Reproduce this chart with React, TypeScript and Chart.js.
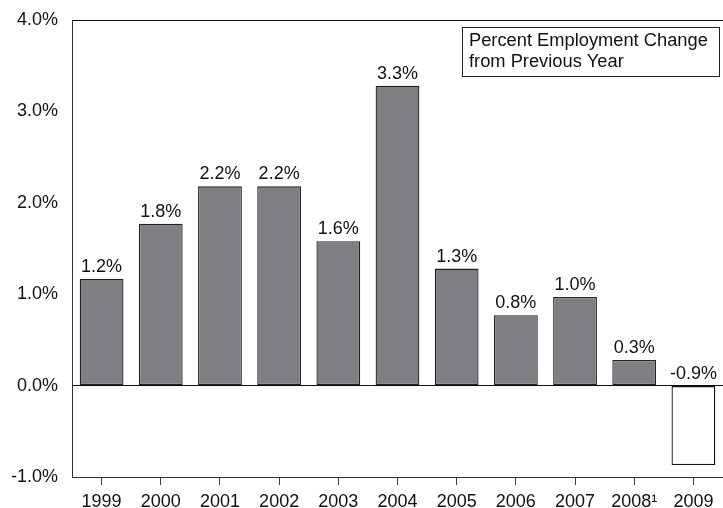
import React, { useEffect, useRef } from "react";
import { Chart, registerables } from "chart.js";

Chart.register(...registerables);

const categories = ["1999", "2000", "2001", "2002", "2003", "2004", "2005", "2006", "2007", "2008\u00b9", "2009"];
const values = [1.17, 1.77, 2.18, 2.18, 1.58, 3.28, 1.28, 0.77, 0.97, 0.28, -0.87];
const valueLabels = ["1.2%", "1.8%", "2.2%", "2.2%", "1.6%", "3.3%", "1.3%", "0.8%", "1.0%", "0.3%", "-0.9%"];
const legendLines = ["Percent Employment Change", "from Previous Year"];

const FONT = "'Liberation Sans', Arial, Helvetica, sans-serif";

export default function App() {
  const ref = useRef<HTMLCanvasElement>(null);
  useEffect(() => {
    if (!ref.current) return;
    const labelPlugin = {
      id: "labels",
      afterDatasetsDraw(chart: any) {
        const ctx = chart.ctx;
        const meta = chart.getDatasetMeta(0);
        const ys = chart.scales.y;
        ctx.save();
        ctx.fillStyle = "#111";
        ctx.font = `18px ${FONT}`;
        ctx.textAlign = "center";
        ctx.textBaseline = "alphabetic";
        meta.data.forEach((bar: any, i: number) => {
          const y = ys.getPixelForValue(Math.max(values[i], 0)) - 7;
          ctx.fillText(valueLabels[i], bar.x, y);
        });
        // legend box
        ctx.strokeStyle = "#222";
        ctx.lineWidth = 1;
        ctx.fillStyle = "#fff";
        ctx.fillRect(462.5, 27.5, 257, 49);
        ctx.strokeRect(462.5, 27.5, 257, 49);
        ctx.fillStyle = "#111";
        ctx.textAlign = "left";
        ctx.font = `18.3px ${FONT}`;
        legendLines.forEach((t, i) => ctx.fillText(t, 469, 46 + i * 20.5));
        ctx.restore();
      },
    };
    const chart = new Chart(ref.current, {
      type: "bar",
      data: {
        labels: categories,
        datasets: [
          {
            data: values,
            backgroundColor: values.map((v) => (v < 0 ? "#ffffff" : "#7f7f83")),
            borderColor: values.map((v) => (v < 0 ? "#111" : "#222")),
            borderWidth: 1.3,
            borderSkipped: false,
            barPercentage: 0.74,
            categoryPercentage: 1,
          },
        ],
      },
      options: {
        animation: false,
        responsive: false,
        devicePixelRatio: 1,
        layout: { padding: { top: 20, right: 0, left: 0, bottom: 0 } },
        plugins: { legend: { display: false }, tooltip: { enabled: false } },
        scales: {
          x: {
            grid: {
              display: true,
              drawOnChartArea: false,
              drawTicks: true,
              tickLength: 8,
              offset: false,
              color: "#444",
            },
            border: { display: true, color: "#333", width: 1 },
            ticks: { color: "#111", font: { size: 18, family: FONT }, padding: 6, maxRotation: 0, autoSkip: false },
            afterFit: (s: any) => {
              s.height = 31;
              s.paddingLeft = 0;
              s.paddingRight = 0;
            },
          },
          y: {
            min: -1,
            max: 4,
            grid: {
              drawTicks: false,
              color: (c: any) => (c.tick && (c.tick.value === 0 || c.tick.value === 4) ? "#111" : "rgba(0,0,0,0)"),
            },
            border: { display: true, color: "#333", width: 1 },
            ticks: {
              stepSize: 1,
              padding: 14,
              color: "#111",
              font: { size: 18, family: FONT },
              callback: (v: any) => Number(v).toFixed(1) + "%",
            },
            afterFit: (s: any) => {
              s.width = 72;
              s.paddingTop = 0;
              s.paddingBottom = 0;
            },
          },
        },
      },
      plugins: [labelPlugin],
    });
    return () => chart.destroy();
  }, []);
  return (
    <div style={{ position: "absolute", left: 0, top: 0, width: 723, height: 508, background: "#fff" }}>
      <canvas ref={ref} width={723} height={508} />
    </div>
  );
}
